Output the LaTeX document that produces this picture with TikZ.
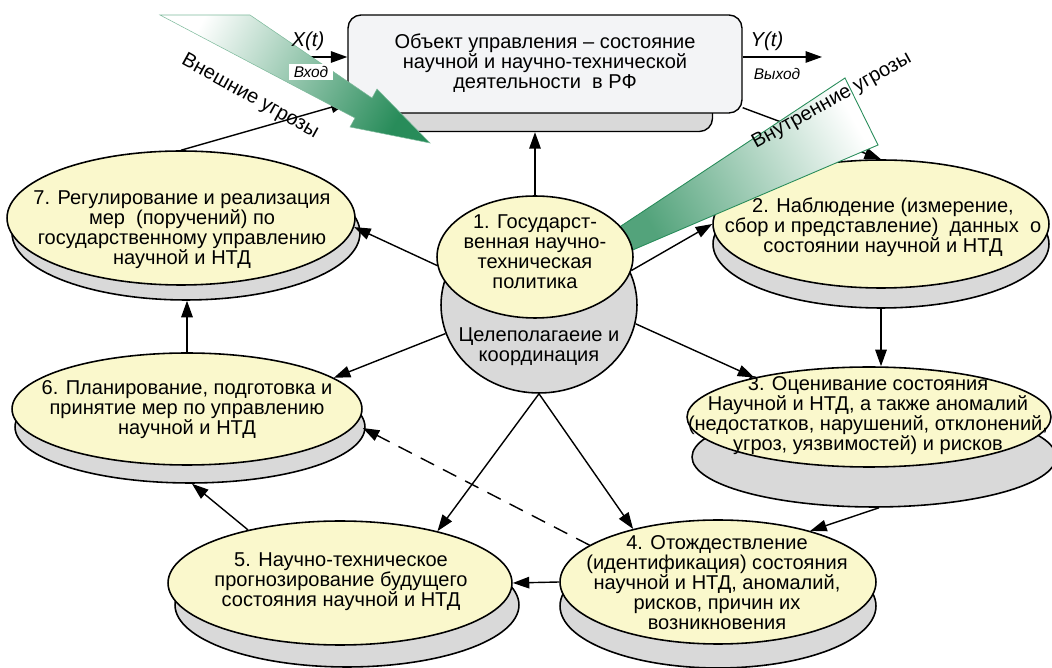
\documentclass[tikz,border=0pt]{standalone}
\usepackage{fontspec}
\setmainfont{Liberation Sans}
\usetikzlibrary{shapes.geometric, arrows.meta, shadows}
\definecolor{diskyellow}{RGB}{250,248,204}
\definecolor{diskgray}{RGB}{217,217,217}
\definecolor{boxwhite}{RGB}{243,244,246}
\definecolor{threatgreen}{RGB}{40,140,90}
\tikzset{
	disk/.style 2 args={
		ellipse,
		draw,
		line width=0.9pt,
		fill=diskyellow,
		inner sep=0pt,
		copy shadow={shadow xshift=#1, shadow yshift=#2, fill=diskgray, draw=black, line width=0.9pt}
	},
	bubble/.style={
		ellipse,
		draw,
		line width=0.9pt,
		inner sep=0pt
	},
	objbox/.style={
		rectangle,
		rounded corners=0.26cm,
		draw,
		line width=0.8pt
	},
	txt/.style={
		align=center,
		inner sep=0pt,
		font=\fontsize{11.4}{11.4}\selectfont
	},
	signal/.style={
		font=\fontsize{11.5}{12}\selectfont\itshape
	},
	small/.style={
		fill=white,
		inner xsep=0.1cm,
		inner ysep=0.04cm,
		font=\fontsize{8.8}{9}\selectfont\itshape
	},
	arr/.style={
		-{Triangle[length=3.3mm, width=2.3mm]},
		line width=0.8pt
	}
}

\begin{document}
\begin{tikzpicture}[x=0.02cm, y=-0.02cm]
		\useasboundingbox (0,0) rectangle (1052,668);
		
		\node [objbox, fill=diskgray, minimum width=6.82cm, minimum height=1.42cm] (objb) at (542,96) {};
		\node [objbox, fill=boxwhite, minimum width=7.88cm, minimum height=1.96cm] (obj) at (545,64) {};
		
		\node [disk={0cm}{-0.4cm}, minimum width=6.72cm, minimum height=2.56cm] (e2) at (881,224) {};
		\node [disk={0.1cm}{-0.8cm}, minimum width=7.28cm, minimum height=2.0cm] (e3) at (869,417) {};
		\node [disk={0cm}{-0.48cm}, minimum width=6.32cm, minimum height=2.48cm] (e4) at (718,582) {};
		\node [disk={0.14cm}{-0.44cm}, minimum width=6.88cm, minimum height=2.48cm] (e5) at (340,583) {};
		\node [disk={0.06cm}{-0.36cm}, minimum width=7.0cm, minimum height=2.24cm] (e6) at (187,409) {};
		\node [disk={0.1cm}{-0.3cm}, minimum width=6.96cm, minimum height=2.68cm] (e7) at (181,218) {};
		
		\draw [arr] ([yshift=0.12cm]obj.south east) -- (e2.north);
		\shade [top color=white, bottom color=threatgreen!80, shading angle=-60.6, draw=threatgreen, line width=0.5pt]
			(618,228) -- (845,78) -- (878,145) -- (628,252) -- cycle;
		
		\node [bubble, fill=diskgray, minimum width=3.92cm, minimum height=3.52cm] (goal) at (539,305) {};
		\node [bubble, fill=diskyellow, minimum width=3.92cm, minimum height=2.44cm] (policy) at (535,257) {};
		
		\coordinate (xin) at (298,57);
		\coordinate (yout) at (822,57);
		\draw [arr] (xin) -- (xin -| obj.west);
		\draw [arr] (obj.east |- yout) -- (yout);
		
		\draw [arr] (policy.north) -- (policy.north |- objb.south);
		\draw [arr] (e7.north) -- ([yshift=0.22cm]obj.south west);
		\draw [arr] (policy.-8) -- (e2.west);
		\draw [arr] (policy.185) -- (e7.-3);
		\draw [arr] (goal.197) -- (e6.12);
		\draw [arr] (goal.-11) -- (e3.161);
		\draw [arr] (goal.south) -- (e5.28);
		\draw [arr] (goal.south) -- (e4.148);
		\coordinate (e2b) at ([yshift=-0.4cm]e2.south);
		\draw [arr] (e2b) -- (e2b |- e3.north);
		\draw [arr] ([xshift=0.2cm, yshift=-0.8cm]e3.south) -- (e4.29);
		\draw [arr] (e4.west) -- (e5.east);
		\draw [arr] (e5.150) -- ([xshift=0.1cm, yshift=-0.36cm]e6.south);
		\draw [arr, dash pattern=on 3mm off 2mm] (e4.164) -- ([yshift=-0.38cm]e6.east);
		\coordinate (e7b) at ([yshift=-0.3cm]e7.south);
		\draw [arr] (e6.north) -- (e6.north |- e7b);
		
		\shade [top color=threatgreen, bottom color=white, shading angle=-119, draw=threatgreen!60, line width=0.3pt]
			(160,15) -- (250,15) -- (372,98) -- (377,89) -- (430,143) -- (350,127) -- (355,118) -- cycle;
		
		\node [txt] (tobj) at (545,63) {Объект управления – состояние\\научной и научно-технической\\деятельности~ в РФ};
		\node [txt] (t1) at (535,252) {1. Государст-\\венная научно-\\техническая\\политика};
		\node [txt] (tgoal) at (539,347) {Целеполагаеие и\\координация};
		\node [txt] (t2) at (883,227) {2. Наблюдение (измерение,\\сбор и представление)~ данных~ о\\состоянии научной и НТД};
		\node [txt] (t3) at (868,416) {3. Оценивание состояния\\Научной и НТД, а также аномалий\\(недостатков, нарушений, отклонений,\\угроз, уязвимостей) и рисков};
		\node [txt] (t4) at (717,583) {4. Отождествление\\(идентификация) состояния\\научной и НТД, аномалий,\\рисков, причин их\\возникновения};
		\node [txt] (t5) at (341,582) {5. Научно-техническое\\прогнозирование будущего\\состояния научной и НТД};
		\node [txt] (t6) at (187,410) {6. Планирование, подготовка и\\принятие мер по управлению\\научной и НТД};
		\node [txt] (t7) at (182,230) {7. Регулирование и реализация\\мер~ (поручений) по\\государственному управлению\\научной и НТД};
		
		\node [signal] (xlab) at (308,41) {X(t)};
		\node [small] (xin lab) at (311,72) {Вход};
		\node [signal] (ylab) at (767,41) {Y(t)};
		\node [small] (yout lab) at (777,74) {Выход};
		
		\node [txt, rotate=-29] (ext) at (250,97) {Внешние угрозы};
		\node [txt, rotate=29] (int) at (832,101) {Внутренние угрозы};
\end{tikzpicture}
\end{document}
